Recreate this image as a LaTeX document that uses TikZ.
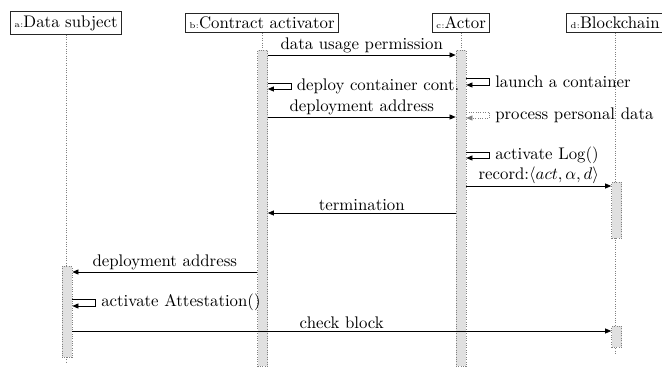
\documentclass[tikz,border=0pt]{standalone}
\usetikzlibrary{arrows.meta}
\begin{document}
\begin{tikzpicture}[x=0.595pt,y=-0.595pt,
  inst/.style={draw=black!85,inner sep=2.2pt},
  life/.style={densely dotted,draw=gray},
  bar/.style={draw=gray,densely dotted,fill=black!12,inner sep=0pt,minimum width=5.95pt,anchor=north},
  msg/.style={-{Triangle[length=3.6pt,width=3pt]},black},
  dmsg/.style={msg,densely dotted,draw=gray},
  lab/.style={above,inner sep=1pt}]
\useasboundingbox (0,0) rectangle (662,367);
% headers
\node[inst] (A) at (66,23) {{\tiny a:}Data subject};
\node[inst] (B) at (262,23) {{\tiny b:}Contract activator};
\node[inst] (C) at (461,23) {{\tiny c:}Actor};
\node[inst] (D) at (615,23) {{\tiny d:}Blockchain};
% lifelines
\draw[life] (A.south) -- (A.south |- 0,362);
\draw[life] (B.south) -- (B.south |- 0,367);
\draw[life] (C.south) -- (C.south |- 0,367);
\draw[life] (D.south) -- (D.south |- 0,353);
% activation bars
\node[bar,minimum height={91*0.595pt}] (barA) at (67,266) {};
\node[bar,minimum height={316*0.595pt}] (barB) at (262.5,50) {};
\node[bar,minimum height={316*0.595pt}] (barC) at (461,50) {};
\node[bar,minimum height={56*0.595pt}] (barD1) at (616.5,182) {};
\node[bar,minimum height={21*0.595pt}] (barD2) at (616.5,326) {};
% messages
\draw[msg] (barB.east|-0,55) -- node[lab]{data usage permission} (barC.west|-0,55);
\draw[msg] (barB.east|-0,83) -- ++(23,0) -- node[right]{deploy container cont.} ++(0,6) -- (barB.east|-0,89);
\draw[msg] (barC.east|-0,78) -- ++(23,0) -- node[right]{launch a container} ++(0,7) -- (barC.east|-0,85);
\draw[msg] (barB.east|-0,117) -- node[lab]{deployment address} (barC.west|-0,117);
\draw[dmsg] (barC.east|-0,112) -- ++(23,0) -- node[right,text=black]{process personal data} ++(0,6) -- (barC.east|-0,118);
\draw[msg] (barC.east|-0,152) -- ++(23,0) -- node[right]{activate Log()} ++(0,6) -- (barC.east|-0,158);
\draw[msg] (barC.east|-0,186) -- node[lab]{record:$\langle act,\alpha,d\rangle$} (barD1.west|-0,186);
\draw[msg] (barC.west|-0,213) -- node[lab]{termination} (barB.east|-0,213);
\draw[msg] (barB.west|-0,272) -- node[lab]{deployment address} (barA.east|-0,272);
\draw[msg] (barA.east|-0,299) -- ++(23,0) -- node[right]{activate Attestation()} ++(0,7) -- (barA.east|-0,306);
\draw[msg] (barA.east|-0,331) -- node[lab]{check block} (barD2.west|-0,331);
\end{tikzpicture}
\end{document}
